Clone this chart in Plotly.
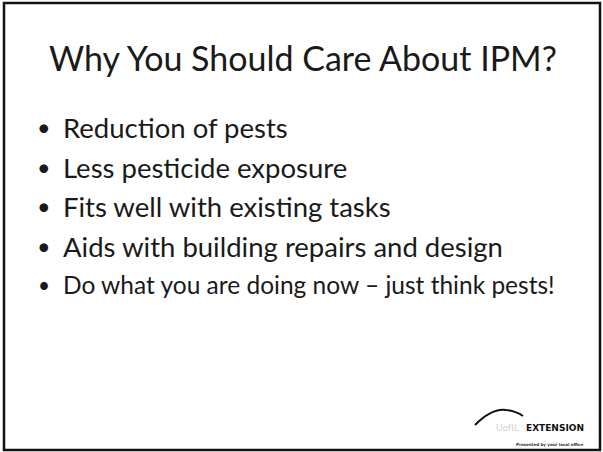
import plotly.graph_objects as go

title = "Why You Should Care About IPM?"
bullets = [
    "Reduction of pests",
    "Less pesticide exposure",
    "Fits well with existing tasks",
    "Aids with building repairs and design",
    "Do what you are doing now \u2013 just think pests!",
]
bullet_sizes = [27.5, 27.5, 27.5, 27.5, 24.5]
bullet_y = [127, 167, 206, 246, 284]
logo_text = "EXTENSION"

W, H = 603, 452
FONT = "Lato, 'Open Sans', sans-serif"

fig = go.Figure()
fig.add_trace(go.Scatter(x=[0, W], y=[0, H], mode="markers", marker=dict(opacity=0), hoverinfo="skip", showlegend=False))

ann = []
ann.append(dict(x=303, y=57, text=title, showarrow=False, xanchor="center", yanchor="middle",
                font=dict(family=FONT, size=34, color="#1a1a1a")))
for t, s, y in zip(bullets, bullet_sizes, bullet_y):
    ann.append(dict(x=44, y=y, text="\u2022", showarrow=False, xanchor="center", yanchor="middle",
                    font=dict(family=FONT, size=s * 0.85, color="#1a1a1a")))
    ann.append(dict(x=61, y=y, text=t, showarrow=False, xanchor="left", yanchor="middle",
                    font=dict(family=FONT, size=s, color="#1a1a1a")))
# logo
ann.append(dict(x=524, y=428, text="<b>" + logo_text + "</b>", showarrow=False, xanchor="left", yanchor="middle",
                font=dict(family="'DejaVu Sans', sans-serif", size=9, color="#111")))
ann.append(dict(x=521, y=428, text="UofIL", showarrow=False, xanchor="right", yanchor="middle",
                font=dict(family="'DejaVu Sans', sans-serif", size=9, color="#d0d0d0")))
ann.append(dict(x=549, y=444, text="<b>Presented by your local office</b>", showarrow=False, xanchor="center", yanchor="middle",
                font=dict(family="'DejaVu Sans', sans-serif", size=4, color="#333")))

shapes = [
    dict(type="rect", x0=4, y0=3, x1=600, y1=450, line=dict(color="#111", width=2.5)),
    dict(type="path", path="M 475 425 Q 492 408 506 410 Q 516 411 523 416",
         line=dict(color="#111", width=2)),
]

fig.update_layout(
    width=W, height=H, margin=dict(l=0, r=0, t=0, b=0),
    paper_bgcolor="white", plot_bgcolor="white",
    xaxis=dict(range=[0, W], visible=False, fixedrange=True),
    yaxis=dict(range=[H, 0], visible=False, fixedrange=True),
    annotations=ann, shapes=shapes,
)
fig.write_html("out.html", config={"displayModeBar": False},
               post_script="document.body.style.margin='0';document.body.style.overflow='hidden';")
